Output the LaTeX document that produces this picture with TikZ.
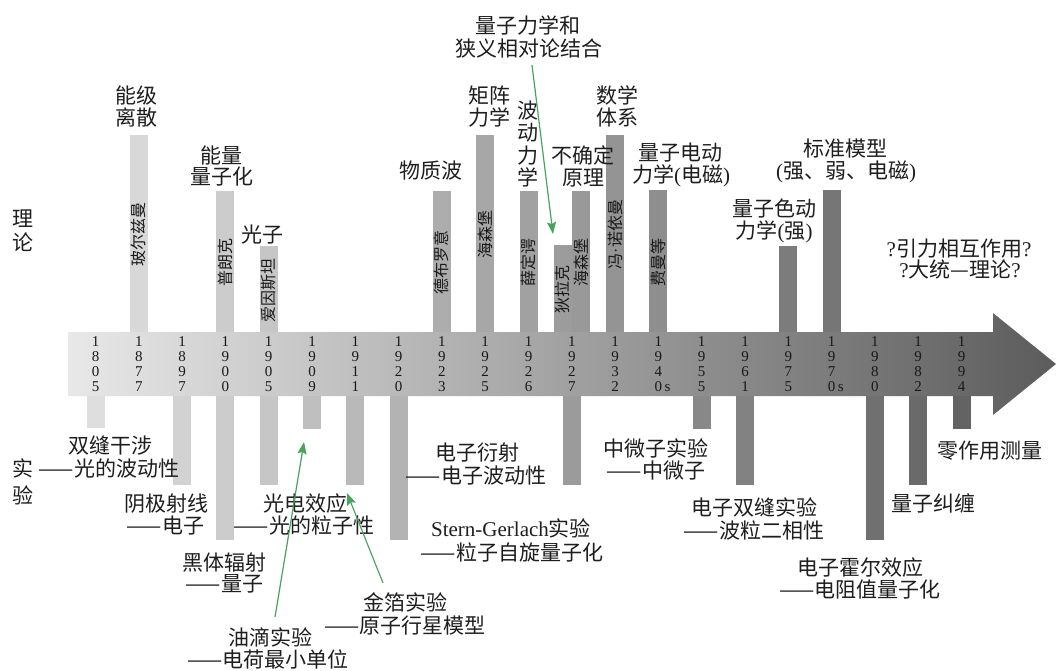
\documentclass[tikz,border=0pt]{standalone}
\usepackage{fontspec}
\setmainfont{Noto Sans CJK SC}
\newfontfamily\tnr{Liberation Serif}
\usetikzlibrary{arrows.meta}
\definecolor{txt}{HTML}{1E1E1E}
\definecolor{grn}{RGB}{72,163,92}
\definecolor{arL}{gray}{0.91}
\definecolor{arR}{gray}{0.36}
\newcommand\Lt[1]{{\tnr #1}}
\newcommand\mkup[4]{%
  \pgfmathsetmacro\gv{(226-0.1417*(#2-68))/255}%
  \definecolor{barcol}{gray}{\gv}%
  \pgfmathsetmacro\blen{334-#3}%
  \pgfmathsetmacro\bmid{(#3+334)/2}%
  \node[upbarst, fill=barcol, minimum width=\blen pt, rotate=90] (#1) at (#2,\bmid) {#4};%
}
\newcommand\mklo[3]{%
  \pgfmathsetmacro\gv{(226-0.1417*(#2-68))/255}%
  \definecolor{barcol}{gray}{\gv}%
  \pgfmathsetmacro\blen{#3-394}%
  \pgfmathsetmacro\bmid{(#3+394)/2}%
  \node[lobarst, fill=barcol, minimum height=\blen pt] (#1) at (#2,\bmid) {};%
}
\begin{document}
\begin{tikzpicture}[x=1pt,y=-1pt,
  lab/.style={font=\fontsize{21}{22}\selectfont, inner sep=0pt, text height=18.5pt, text depth=2.5pt, text=txt},
  yr/.style={font=\tnr\fontsize{15}{15}\selectfont, align=center, inner sep=0pt, text=black!90},
  upbarst/.style={draw=none, inner sep=0pt, minimum height=18pt, font=\fontsize{16}{16}\selectfont, text height=14pt, text depth=2pt, text=black!90},
  lobarst/.style={draw=none, inner sep=0pt, minimum width=18pt},
  garrow/.style={draw=grn, line width=1.2pt, -{Stealth[length=12pt,width=9pt,inset=2pt]}}
]
\useasboundingbox (0,0) rectangle (1056,670);
\fill[white] (0,0) rectangle (1056,670);

% upper bars (theory)
\mkup{b1877}{138.8}{135}{玻尔兹曼}
\mkup{b1900}{225.4}{191}{普朗克}
\mkup{b1905}{268.7}{246}{爱因斯坦}
\mkup{b1923}{441.9}{191}{德布罗意}
\mkup{b1925}{485.2}{135}{海森堡}
\mkup{b1926}{528.5}{191}{薛定谔}
\mkup{b1927a}{562.6}{245}{狄拉克}
\mkup{b1927b}{581.0}{191}{海森堡}
\mkup{b1932}{615.1}{135}{冯\Lt{·}诺依曼}
\mkup{b1940}{658.4}{190}{费曼等}
\mkup{b1975}{788.3}{246}{}
\mkup{b1970}{831.6}{190}{}

% lower bars (experiments)
\mklo{l1805}{95.5}{428}
\mklo{l1897}{182.1}{485}
\mklo{l1900}{225.4}{540}
\mklo{l1905}{268.7}{485}
\mklo{l1909}{312.0}{429}
\mklo{l1911}{355.3}{485}
\mklo{l1920}{398.6}{540}
\mklo{l1927}{571.8}{485}
\mklo{l1955}{701.7}{429}
\mklo{l1961}{745.0}{485}
\mklo{l1980}{874.9}{540}
\mklo{l1982}{918.2}{485}
\mklo{l1994}{961.5}{429}

% main arrow
\shade[left color=arL, right color=arR]
  (68,332) -- (993,332) -- (993,313) -- (1056,364) -- (993,415) -- (993,396) -- (68,396) -- cycle;

% years
\foreach \ya/\yb/\yc/\yd [count=\i from 0] in
  {1/8/0/5, 1/8/7/7, 1/8/9/7, 1/9/0/0, 1/9/0/5, 1/9/0/9, 1/9/1/1, 1/9/2/0,
   1/9/2/3, 1/9/2/5, 1/9/2/6, 1/9/2/7, 1/9/3/2, 1/9/4/{0\rlap{\,s}},
   1/9/5/5, 1/9/6/1, 1/9/7/5, 1/9/7/{0\rlap{\,s}}, 1/9/8/0, 1/9/8/2, 1/9/9/4}
  \node[yr] (yr\i) at ({95.5+43.3*\i},364.5) {\ya\\\yb\\\yc\\\yd};

% side labels
\node[lab] (ll1) at (23,218) {理};
\node[lab] (ll2) at (23,242) {论};
\node[lab] (sy1) at (23,468) {实};
\node[lab] (sy2) at (23,495) {验};

% theory labels
\node[lab] (top1) at (528,25) {量子力学和};
\node[lab] (top2) at (529,48) {狭义相对论结合};
\node[lab] (nj1) at (136,95) {能级};
\node[lab] (nj2) at (136,117) {离散};
\node[lab] (nl1) at (221,155) {能量};
\node[lab] (nl2) at (222,176) {量子化};
\node[lab] (gz) at (262,234) {光子};
\node[lab] (wzb) at (431,170) {物质波};
\node[lab] (jz1) at (489,95) {矩阵};
\node[lab] (jz2) at (489,117) {力学};
\node[lab] (bd1) at (528,110) {波};
\node[lab] (bd2) at (528,132.5) {动};
\node[lab] (bd3) at (528,155) {力};
\node[lab] (bd4) at (528,177.5) {学};
\node[lab] (bq1) at (583,155) {不确定};
\node[lab] (bq2) at (583,177) {原理};
\node[lab] (sx1) at (617,95) {数学};
\node[lab] (sx2) at (617,117) {体系};
\node[lab] (qd1) at (680,152) {量子电动};
\node[lab] (qd2) at (681,174) {力学\Lt{(}电磁\Lt{)}};
\node[lab] (qs1) at (774,208) {量子色动};
\node[lab] (qs2) at (774,230) {力学\Lt{(}强\Lt{)}};
\node[lab] (bz1) at (845,148) {标准模型};
\node[lab] (bz2) at (846,170) {\Lt{(}强、弱、电磁\Lt{)}};
\node[lab] (yl1) at (959,248) {\Lt{?}引力相互作用\Lt{?}};
\node[lab] (yl2) at (960,269) {\Lt{?}大统—理论\Lt{?}};

% experiment labels
\node[lab] (sf1) at (110,445) {双缝干涉};
\node[lab] (sf2) at (109,468) {——光的波动性};
\node[lab] (yj1) at (166.5,503) {阴极射线};
\node[lab] (yj2) at (165.5,525) {——电子};
\node[lab] (gd1) at (305,503) {光电效应};
\node[lab] (gd2) at (304,525) {——光的粒子性};
\node[lab] (ht1) at (224.5,562) {黑体辐射};
\node[lab] (ht2) at (224.5,583) {——量子};
\node[lab] (yd1) at (270,637) {油滴实验};
\node[lab] (yd2) at (268,659) {——电荷最小单位};
\node[lab] (jb1) at (405,602) {金箔实验};
\node[lab] (jb2) at (405,625) {——原子行星模型};
\node[lab] (dy1) at (477,452) {电子衍射};
\node[lab] (dy2) at (476,475) {——电子波动性};
\node[lab] (sg1) at (511,528) {\Lt{Stern-Gerlach}实验};
\node[lab] (sg2) at (512,552) {——粒子自旋量子化};
\node[lab] (zw1) at (656,448) {中微子实验};
\node[lab] (zw2) at (656,470) {——中微子};
\node[lab] (ds1) at (754,507) {电子双缝实验};
\node[lab] (ds2) at (754,530) {——波粒二相性};
\node[lab] (hr1) at (860,567) {电子霍尔效应};
\node[lab] (hr2) at (860,589) {——电阻值量子化};
\node[lab] (jc) at (933,503) {量子纠缠};
\node[lab] (lz) at (990,450) {零作用测量};

% green pointers
\coordinate (g1s) at (532,65);
\coordinate (g1e) at (553,234);
\coordinate (g2s) at (275,617);
\coordinate (g2e) at (304,442);
\coordinate (g3s) at (383,583);
\coordinate (g3e) at (347,493);
\draw[garrow] (g1s) -- (g1e);
\draw[garrow] (g2s) -- (g2e);
\draw[garrow] (g3s) -- (g3e);
\end{tikzpicture}
\end{document}
